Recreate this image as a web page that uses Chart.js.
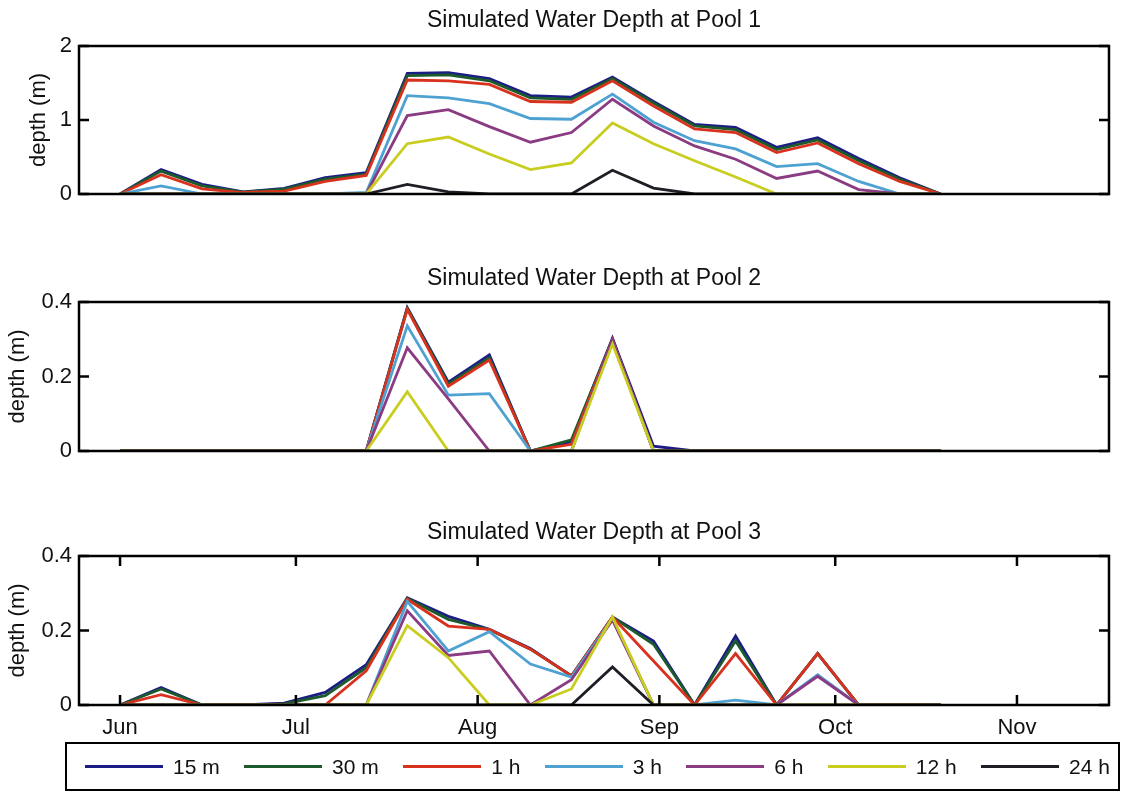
<!DOCTYPE html>
<html lang="en">
<head>
    <meta charset="UTF-8">
    <title>Simulated Water Depth</title>
    <script src="https://cdn.jsdelivr.net/npm/chart.js"></script>
    <style>
        body { margin: 0; background: #fff; font-family: "Liberation Sans", Arial, sans-serif; }
        #wrap { position: relative; width: 1128px; height: 796px; overflow: hidden; }
        #wrap canvas { position: absolute; left: 0; top: 0; }
        #legend {
            position: absolute; left: 65px; top: 742px; width: 1055px; height: 49px;
            border: 2px solid #000; display: flex; align-items: center;
            justify-content: space-between; padding: 0 8px 0 18px; box-sizing: border-box;
            font-size: 21px; color: #111;
        }
        #legend .item { display: flex; align-items: center; }
        #legend .swatch { width: 78px; height: 3px; margin-right: 10px; }
    </style>
</head>
<body>
<div id="wrap">
    <canvas id="pool1" width="1128" height="796"></canvas>
    <canvas id="pool2" width="1128" height="796"></canvas>
    <canvas id="pool3" width="1128" height="796"></canvas>
    <div id="legend"></div>
</div>

<script>
    // weekly sample days, counted from 1 June
    var days = [0, 7, 14, 21, 28, 35, 42, 49, 56, 63, 70, 77, 84, 91, 98, 105, 112, 119, 126, 133, 140];

    var monthTicks = [0, 30, 61, 92, 122, 153];
    var monthLabels = ['Jun', 'Jul', 'Aug', 'Sep', 'Oct', 'Nov'];

    var seriesNames = ['15 m', '30 m', '1 h', '3 h', '6 h', '12 h', '24 h'];
    var seriesColors = ['#1c1c86', '#1b5b2b', '#d8321e', '#4ea2d2', '#8b3b82', '#c9cd1f', '#1e1e26'];

    // Pool 1 depth (m)
    var pool1_15m = [0, 0.33, 0.13, 0.03, 0.075, 0.22, 0.29, 1.63, 1.64, 1.56, 1.33, 1.31, 1.58, 1.25, 0.94, 0.90, 0.63, 0.76, 0.48, 0.22, 0];
    var pool1_30m = [0, 0.31, 0.11, 0.025, 0.065, 0.20, 0.27, 1.60, 1.61, 1.53, 1.30, 1.28, 1.56, 1.23, 0.92, 0.87, 0.60, 0.73, 0.45, 0.20, 0];
    var pool1_1h  = [0, 0.26, 0.07, 0.02, 0.04, 0.17, 0.25, 1.54, 1.53, 1.48, 1.25, 1.24, 1.53, 1.19, 0.88, 0.83, 0.56, 0.69, 0.41, 0.17, 0];
    var pool1_3h  = [0, 0.11, 0, 0, 0, 0, 0.02, 1.33, 1.30, 1.22, 1.02, 1.01, 1.35, 0.97, 0.72, 0.61, 0.37, 0.41, 0.17, 0, 0];
    var pool1_6h  = [0, 0, 0, 0, 0, 0, 0, 1.06, 1.14, 0.91, 0.70, 0.83, 1.28, 0.92, 0.65, 0.47, 0.21, 0.31, 0.06, 0, 0];
    var pool1_12h = [0, 0, 0, 0, 0, 0, 0, 0.68, 0.77, 0.54, 0.33, 0.42, 0.96, 0.68, 0.45, 0.23, 0, 0, 0, 0, 0];
    var pool1_24h = [0, 0, 0, 0, 0, 0, 0, 0.13, 0.03, 0, 0, 0, 0.32, 0.08, 0, 0, 0, 0, 0, 0, 0];

    // Pool 2 depth (m)
    var pool2_15m = [0, 0, 0, 0, 0, 0, 0, 0.385, 0.185, 0.258, 0, 0.025, 0.303, 0.013, 0, 0, 0, 0, 0, 0, 0];
    var pool2_30m = [0, 0, 0, 0, 0, 0, 0, 0.383, 0.180, 0.250, 0, 0.030, 0.300, 0, 0, 0, 0, 0, 0, 0, 0];
    var pool2_1h  = [0, 0, 0, 0, 0, 0, 0, 0.380, 0.174, 0.244, 0, 0.018, 0.298, 0, 0, 0, 0, 0, 0, 0, 0];
    var pool2_3h  = [0, 0, 0, 0, 0, 0, 0, 0.336, 0.150, 0.154, 0, 0, 0.295, 0, 0, 0, 0, 0, 0, 0, 0];
    var pool2_6h  = [0, 0, 0, 0, 0, 0, 0, 0.277, 0.140, 0, 0, 0, 0.298, 0, 0, 0, 0, 0, 0, 0, 0];
    var pool2_12h = [0, 0, 0, 0, 0, 0, 0, 0.159, 0, 0, 0, 0, 0.287, 0, 0, 0, 0, 0, 0, 0, 0];
    var pool2_24h = [0, 0, 0, 0, 0, 0, 0, 0, 0, 0, 0, 0, 0, 0, 0, 0, 0, 0, 0, 0, 0];

    // Pool 3 depth (m)
    var pool3_15m = [0, 0.047, 0, 0, 0.005, 0.034, 0.108, 0.288, 0.238, 0.203, 0.152, 0.078, 0.236, 0.172, 0, 0.185, 0, 0.138, 0, 0, 0];
    var pool3_30m = [0, 0.043, 0, 0, 0.003, 0.025, 0.100, 0.286, 0.230, 0.202, 0.150, 0.078, 0.236, 0.163, 0, 0.172, 0, 0.138, 0, 0, 0];
    var pool3_1h  = [0, 0.028, 0, 0, 0, 0, 0.092, 0.284, 0.212, 0.203, 0.150, 0.078, 0.236, 0.118, 0, 0.138, 0, 0.138, 0, 0, 0];
    var pool3_3h  = [0, 0, 0, 0, 0, 0, 0, 0.278, 0.145, 0.197, 0.110, 0.075, 0.232, 0, 0, 0.013, 0, 0.081, 0, 0, 0];
    var pool3_6h  = [0, 0, 0, 0, 0, 0, 0, 0.253, 0.133, 0.145, 0, 0.068, 0.228, 0, 0, 0, 0, 0.077, 0, 0, 0];
    var pool3_12h = [0, 0, 0, 0, 0, 0, 0, 0.213, 0.127, 0, 0, 0.043, 0.236, 0, 0, 0, 0, 0, 0, 0, 0];
    var pool3_24h = [0, 0, 0, 0, 0, 0, 0, 0, 0, 0, 0, 0, 0.102, 0, 0, 0, 0, 0, 0, 0, 0];

    var depthTicks1 = [0, 1, 2];
    var depthTicks23 = [0, 0.2, 0.4];

    var fontFamily = '"Liberation Sans", Arial, sans-serif';

    // box round the plot area with inward ticks, drawn over the lines
    var framePlugin = {
        id: 'frame',
        afterDatasetsDraw: function (chart, args, opts) {
            var ctx = chart.ctx, a = chart.chartArea, sx = chart.scales.x, sy = chart.scales.y;
            ctx.save();
            ctx.strokeStyle = '#000';
            ctx.lineWidth = 2.5;
            ctx.strokeRect(a.left, a.top, a.right - a.left, a.bottom - a.top);
            ctx.beginPath();
            sy.ticks.forEach(function (t) {
                var y = sy.getPixelForValue(t.value);
                ctx.moveTo(a.left, y); ctx.lineTo(a.left + 10, y);
                ctx.moveTo(a.right, y); ctx.lineTo(a.right - 10, y);
            });
            if (opts.xTicks) {
                sx.ticks.forEach(function (t) {
                    var x = sx.getPixelForValue(t.value);
                    ctx.moveTo(x, a.bottom); ctx.lineTo(x, a.bottom - 10);
                    ctx.moveTo(x, a.top); ctx.lineTo(x, a.top + 10);
                });
            }
            ctx.stroke();
            ctx.restore();
        }
    };

    function makeDatasets(values) {
        return values.map(function (vals, k) {
            return {
                label: seriesNames[k],
                data: days.map(function (d, i) { return { x: d, y: vals[i] }; }),
                borderColor: seriesColors[k],
                borderWidth: 2.8,
                pointRadius: 0,
                tension: 0,
                fill: false,
                order: values.length - k
            };
        });
    }

    function makePool(id, title, values, yMax, yTicks, pad, titleGap, labelGap, showX) {
        var ctx = document.getElementById(id).getContext('2d');
        return new Chart(ctx, {
            type: 'line',
            data: { datasets: makeDatasets(values) },
            options: {
                responsive: false,
                animation: false,
                events: [],
                layout: { padding: { left: 0, right: 19, top: pad[0], bottom: pad[1] } },
                plugins: {
                    legend: { display: false },
                    tooltip: { enabled: false },
                    title: {
                        display: true,
                        text: title,
                        fullSize: false,
                        color: '#111',
                        font: { family: fontFamily, size: 23, weight: 'normal' },
                        padding: { top: 0, bottom: titleGap }
                    },
                    frame: { xTicks: showX }
                },
                scales: {
                    x: {
                        type: 'linear',
                        display: showX,
                        min: -7,
                        max: 168.7,
                        grid: { display: false, drawTicks: false },
                        border: { display: false },
                        afterBuildTicks: function (scale) {
                            scale.ticks = monthTicks.map(function (v) { return { value: v }; });
                        },
                        ticks: {
                            padding: 10,
                            maxRotation: 0,
                            autoSkip: false,
                            color: '#111',
                            font: { family: fontFamily, size: 22 },
                            callback: function (v) { return monthLabels[monthTicks.indexOf(v)]; }
                        }
                    },
                    y: {
                        min: 0,
                        max: yMax,
                        grid: { display: false, drawTicks: false },
                        border: { display: false },
                        afterFit: function (scale) { scale.width = 79; },
                        afterBuildTicks: function (scale) {
                            scale.ticks = yTicks.map(function (v) { return { value: v }; });
                        },
                        ticks: {
                            padding: 7,
                            color: '#111',
                            font: { family: fontFamily, size: 22 },
                            callback: function (v) { return String(v); }
                        },
                        title: {
                            display: true,
                            text: 'depth (m)',
                            color: '#111',
                            font: { family: fontFamily, size: 22 },
                            padding: { top: labelGap, bottom: 0 }
                        }
                    }
                }
            },
            plugins: [framePlugin]
        });
    }

    makePool('pool1', 'Simulated Water Depth at Pool 1',
        [pool1_15m, pool1_30m, pool1_1h, pool1_3h, pool1_6h, pool1_12h, pool1_24h],
        2, depthTicks1, [6.4, 602], 12, 26, false);
    makePool('pool2', 'Simulated Water Depth at Pool 2',
        [pool2_15m, pool2_30m, pool2_1h, pool2_3h, pool2_6h, pool2_12h, pool2_24h],
        0.4, depthTicks23, [264.4, 345], 10, 5, false);
    makePool('pool3', 'Simulated Water Depth at Pool 3',
        [pool3_15m, pool3_30m, pool3_1h, pool3_3h, pool3_6h, pool3_12h, pool3_24h],
        0.4, depthTicks23, [518.4, 44.6], 10, 5, true);

    // shared legend under the three panels
    var legend = document.getElementById('legend');
    seriesNames.forEach(function (name, k) {
        var item = document.createElement('div');
        item.className = 'item';
        var sw = document.createElement('span');
        sw.className = 'swatch';
        sw.style.background = seriesColors[k];
        var txt = document.createElement('span');
        txt.textContent = name;
        item.appendChild(sw);
        item.appendChild(txt);
        legend.appendChild(item);
    });
</script>
</body>
</html>
